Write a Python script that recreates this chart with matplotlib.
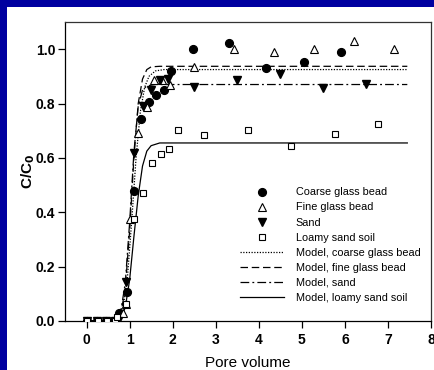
import matplotlib
matplotlib.use("Agg")
import matplotlib.pyplot as plt
from matplotlib.patches import Rectangle

plt.rcParams['font.family'] = ['Liberation Sans', 'DejaVu Sans']

# Measured breakthrough data (pore volume, C/C0)
coarse_x = [0.0, 0.25, 0.45, 0.62, 0.75, 0.93, 1.10, 1.27, 1.45, 1.61, 1.79, 1.96, 2.47, 3.32, 4.17, 5.04, 5.90]
coarse_y = [0.0, 0.0, 0.0, 0.0, 0.031, 0.106, 0.477, 0.743, 0.805, 0.833, 0.850, 0.920, 1.000, 1.024, 0.932, 0.953, 0.989]

fine_x = [0.02, 0.26, 0.46, 0.64, 0.85, 0.92, 1.01, 1.20, 1.40, 1.56, 1.76, 1.94, 2.49, 3.42, 4.35, 5.28, 6.21, 7.13]
fine_y = [0.0, 0.0, 0.0, 0.0, 0.030, 0.064, 0.374, 0.690, 0.787, 0.885, 0.885, 0.867, 0.935, 1.000, 0.990, 1.000, 1.030, 1.000]

sand_x = [0.01, 0.25, 0.46, 0.66, 0.72, 0.91, 1.10, 1.30, 1.50, 1.70, 1.90, 2.49, 3.50, 4.49, 5.49, 6.50]
sand_y = [0.0, 0.0, 0.0, 0.0, 0.0, 0.142, 0.618, 0.792, 0.851, 0.888, 0.890, 0.861, 0.885, 0.908, 0.859, 0.873]

loamy_x = [0.01, 0.26, 0.47, 0.66, 0.71, 0.92, 1.11, 1.31, 1.52, 1.72, 1.92, 2.13, 2.73, 3.74, 4.75, 5.78, 6.78]
loamy_y = [0.0, 0.0, 0.0, 0.0, 0.015, 0.064, 0.374, 0.471, 0.582, 0.614, 0.634, 0.704, 0.684, 0.701, 0.642, 0.689, 0.725]

# Fitted model curves
m_coarse_x = [0.0, 0.65, 0.75, 0.85, 0.95, 1.05, 1.15, 1.25, 1.35, 1.45, 1.60, 1.80, 7.45]
m_coarse_y = [0.0, 0.0, 0.01, 0.05, 0.16, 0.37, 0.60, 0.77, 0.86, 0.90, 0.92, 0.925, 0.925]

m_fine_x = [0.0, 0.60, 0.70, 0.80, 0.90, 1.00, 1.10, 1.20, 1.30, 1.40, 1.50, 1.70, 7.45]
m_fine_y = [0.0, 0.0, 0.005, 0.03, 0.12, 0.33, 0.60, 0.80, 0.89, 0.925, 0.935, 0.937, 0.937]

m_sand_x = [0.0, 0.60, 0.70, 0.80, 0.90, 1.00, 1.10, 1.20, 1.30, 1.40, 1.60, 7.45]
m_sand_y = [0.0, 0.0, 0.008, 0.04, 0.14, 0.36, 0.62, 0.79, 0.85, 0.865, 0.870, 0.870]

m_loamy_x = [0.0, 0.70, 0.80, 0.90, 1.00, 1.10, 1.20, 1.30, 1.40, 1.50, 1.70, 7.45]
m_loamy_y = [0.0, 0.0, 0.01, 0.05, 0.15, 0.31, 0.46, 0.57, 0.625, 0.645, 0.655, 0.655]

x_ticks = [0, 1, 2, 3, 4, 5, 6, 7, 8]
y_ticks = [0.0, 0.2, 0.4, 0.6, 0.8, 1.0]

W, H = 434, 370
fig = plt.figure(figsize=(W / 100, H / 100), dpi=100)
fig.patch.set_facecolor('white')

# dark blue frame strips along the left and top edges
blue = '#0000A0'
fig.patches.append(Rectangle((0, 0), 7 / W, 1, transform=fig.transFigure,
                             facecolor=blue, edgecolor='none', zorder=0))
fig.patches.append(Rectangle((0, 1 - 7 / H), 1, 7 / H, transform=fig.transFigure,
                             facecolor=blue, edgecolor='none', zorder=0))

ax = fig.add_axes([65 / W, (H - 321) / H, (431 - 65) / W, (321 - 22) / H])

lw = 0.9
ax.plot(m_coarse_x, m_coarse_y, color='black', lw=lw, dashes=(1, 1.2),
        label='Model, coarse glass bead')
ax.plot(m_fine_x, m_fine_y, color='black', lw=lw, dashes=(6, 3),
        label='Model, fine glass bead')
ax.plot(m_sand_x, m_sand_y, color='black', lw=lw, dashes=(7, 2.5, 1.5, 2.5),
        label='Model, sand')
ax.plot(m_loamy_x, m_loamy_y, color='black', lw=lw, label='Model, loamy sand soil')

ms = 5.6
ax.plot(coarse_x, coarse_y, 'o', color='black', ms=ms, ls='none',
        label='Coarse glass bead', zorder=5)
ax.plot(fine_x, fine_y, '^', mfc='white', mec='black', mew=0.8, ms=ms, ls='none',
        label='Fine glass bead', zorder=5)
ax.plot(sand_x, sand_y, 'v', color='black', ms=ms, ls='none',
        label='Sand', zorder=5)
ax.plot(loamy_x, loamy_y, 's', mfc='white', mec='black', mew=0.8, ms=4.8, ls='none',
        label='Loamy sand soil', zorder=5)

ax.set_xlim(-0.5, 8)
ax.set_ylim(0, 1.1)
ax.set_xticks(x_ticks)
ax.set_yticks(y_ticks)
ax.set_xticklabels([str(v) for v in x_ticks])
ax.set_yticklabels([f'{v:.1f}' for v in y_ticks])
ax.tick_params(direction='out', length=5, width=0.9, labelsize=10)
ax.tick_params(axis='y', pad=2)
ax.tick_params(axis='x', pad=4)
for lab in ax.get_xticklabels() + ax.get_yticklabels():
    lab.set_fontweight('bold')
for sp in ax.spines.values():
    sp.set_linewidth(0.9)
ax.spines['top'].set_color('#333333')
ax.spines['right'].set_color('#333333')

ax.set_xlabel('Pore volume', fontsize=11, labelpad=6)
ax.set_ylabel('C/C$_\\mathbf{0}$', fontsize=11, fontweight='bold', labelpad=-1)

handles, labels = ax.get_legend_handles_labels()
order = [4, 5, 6, 7, 0, 1, 2, 3]
ax.legend([handles[i] for i in order], [labels[i] for i in order],
          loc='upper left', bbox_to_anchor=(0.478, 0.447), frameon=False,
          fontsize=7.8, handlelength=4.1, handletextpad=1.05,
          labelspacing=0.47, borderpad=0, borderaxespad=0)

fig.savefig('out.png', dpi=100, facecolor='white')
